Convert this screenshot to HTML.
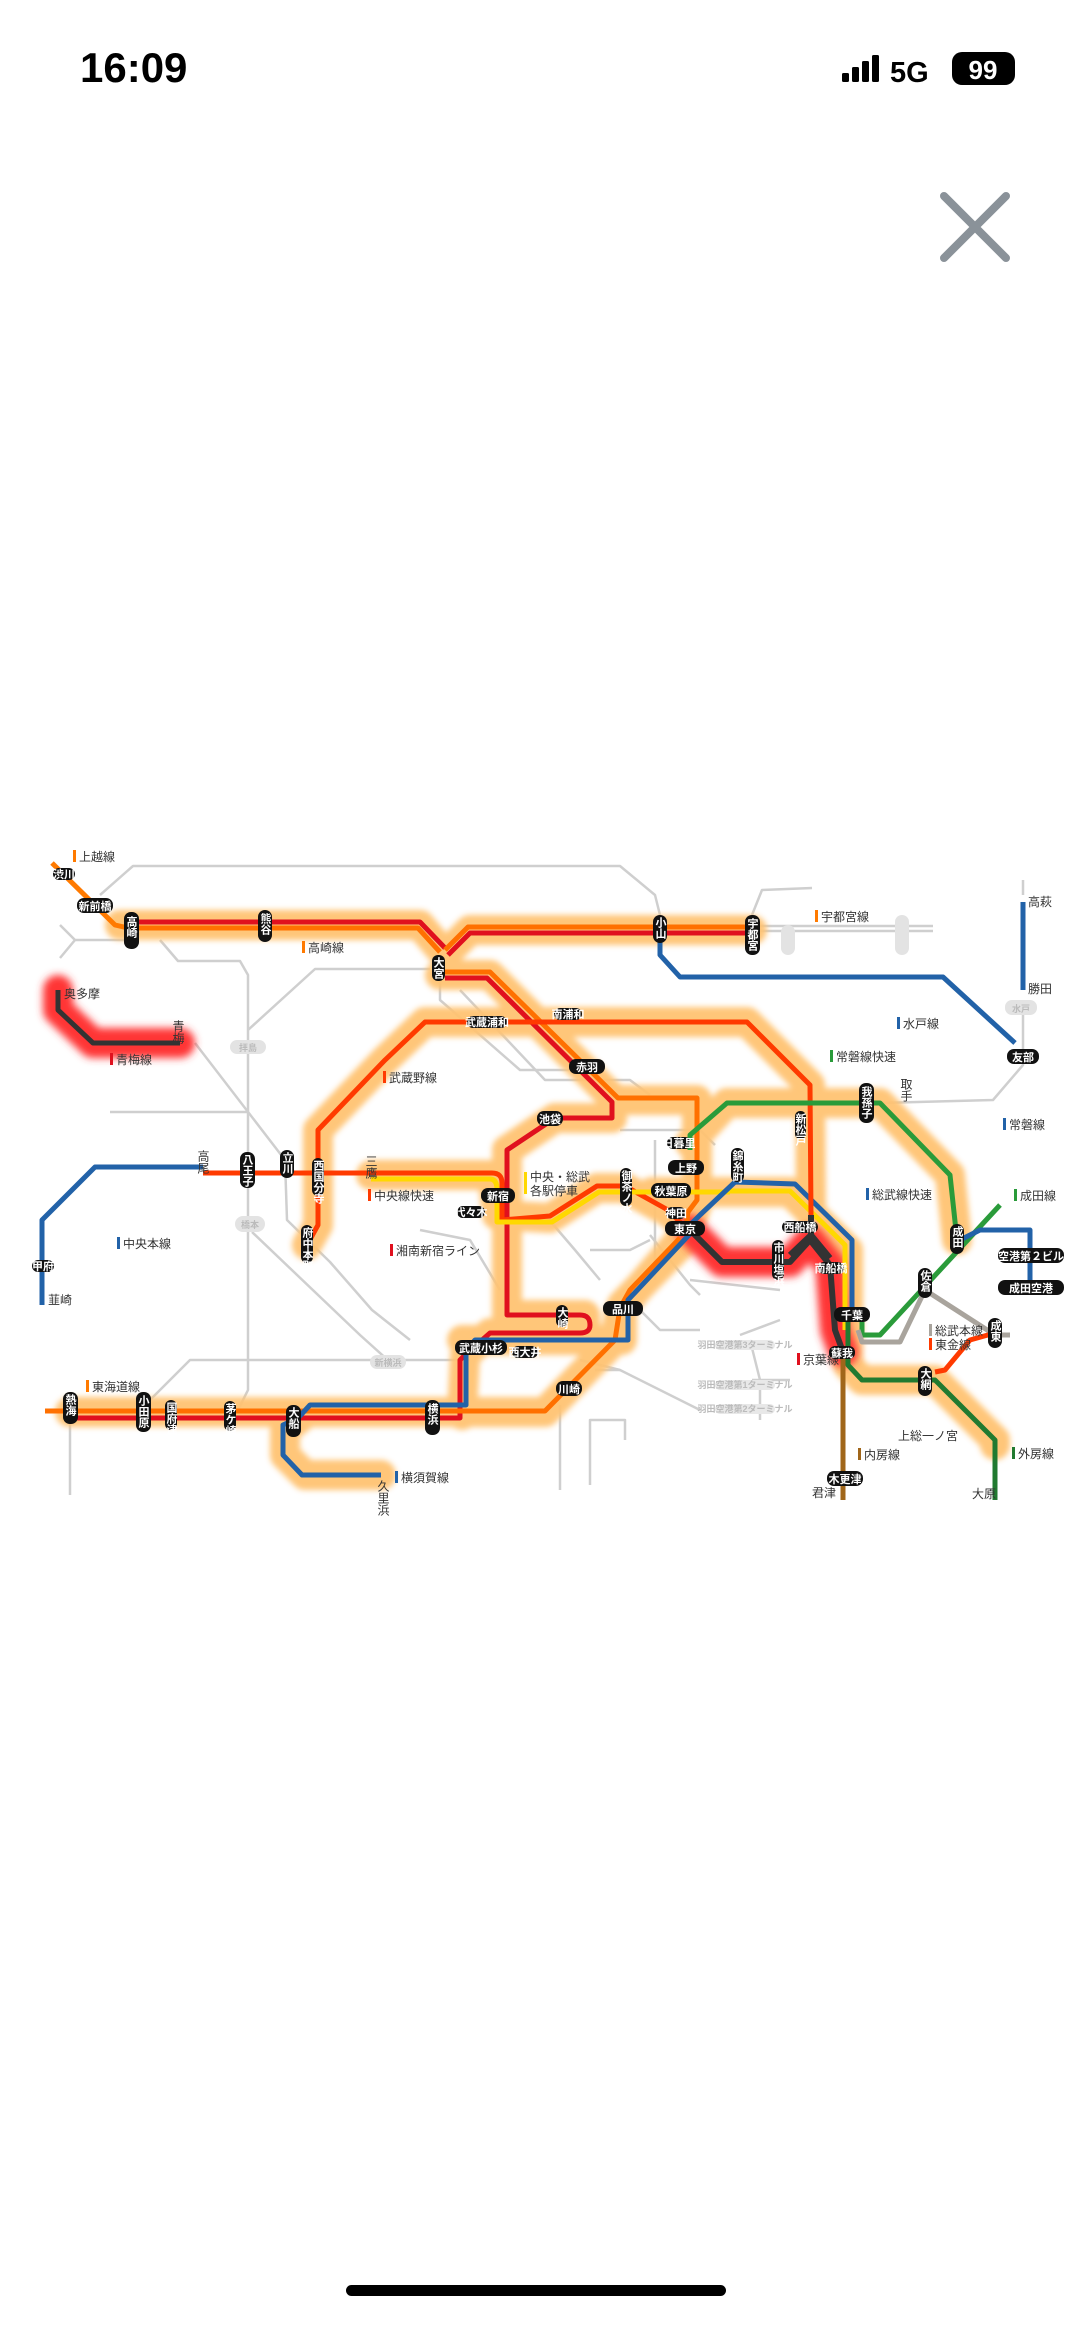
<!DOCTYPE html>
<html><head><meta charset="utf-8">
<style>
html,body{margin:0;padding:0;background:#fff;}
body{width:1080px;height:2338px;position:relative;overflow:hidden;font-family:"Liberation Sans","Noto Sans CJK JP",sans-serif;}
svg{position:absolute;left:0;top:0;}
.pt{fill:#fff;font-weight:bold;font-size:11px;font-family:"Liberation Sans","Noto Sans CJK JP",sans-serif;}
.lg{fill:#333;font-size:12px;font-family:"Liberation Sans","Noto Sans CJK JP",sans-serif;}
.gt{fill:#bbb;font-size:9px;font-weight:bold;font-family:"Liberation Sans","Noto Sans CJK JP",sans-serif;}
.v{writing-mode:vertical-rl;}
</style></head><body>
<svg width="1080" height="2338" viewBox="0 0 1080 2338">
<defs>
<filter id="b" x="-20%" y="-20%" width="140%" height="140%"><feGaussianBlur stdDeviation="3"/></filter>
<filter id="r" x="-20%" y="-20%" width="140%" height="140%"><feGaussianBlur stdDeviation="4"/></filter>
</defs>
<text x="80" y="82" font-size="42" font-weight="bold" fill="#000" font-family="Liberation Sans, sans-serif">16:09</text>
<rect x="842" y="73" width="7" height="9" rx="1.5" fill="#000"/>
<rect x="852" y="67" width="7" height="15" rx="1.5" fill="#000"/>
<rect x="862" y="61" width="7" height="21" rx="1.5" fill="#000"/>
<rect x="872" y="55" width="7" height="27" rx="1.5" fill="#000"/>
<text x="890" y="82" font-size="29" font-weight="bold" fill="#000" font-family="Liberation Sans, sans-serif">5G</text>
<rect x="952" y="52" width="63" height="33" rx="10" fill="#000"/>
<text x="983" y="79" font-size="26" font-weight="bold" fill="#fff" text-anchor="middle" font-family="Liberation Sans, sans-serif">99</text>
<path d="M944,196 L1006,258 M1006,196 L944,258" stroke="#8a9299" stroke-width="8" stroke-linecap="round"/>
<rect x="346" y="2285" width="380" height="11" rx="5.5" fill="#000"/>

<g fill="none" stroke="#cfcfcf" stroke-width="2.5" stroke-linejoin="round">
<path d="M100,895 L133,866 L620,866 L655,895 L660,915"/>
<path d="M60,925 L75,940 L125,940 M60,958 L75,940"/>
<path d="M160,940 L178,961 L240,961 L248,975 L248,1390 L238,1410"/>
<path d="M248,1030 L315,969 L430,969"/>
<path d="M195,1043 L285,1160 L287,1220 L330,1262 L372,1310 L410,1340"/>
<path d="M110,1112 L248,1112"/>
<path d="M252,1232 L360,1335 L390,1362"/>
<path d="M150,1400 L190,1360 L470,1360"/>
<path d="M440,975 L440,1000 L520,1070 L600,1070"/>
<path d="M460,990 L545,1080 L630,1080 L650,1095"/>
<path d="M70,1415 L70,1495"/>
<path d="M752,915 L762,890 L812,888"/>
<path d="M760,926 L933,926 M760,931 L933,931"/>
<path d="M880,1103 L993,1100 L1023,1065 L1023,1000"/>
<path d="M1023,895 L1023,880"/>
<path d="M560,1405 L560,1490 M590,1485 L590,1420 L625,1420 L625,1440"/>
<path d="M595,1370 L620,1370 L700,1410"/>
<path d="M580,1360 L620,1370"/>
<path d="M750,1340 L760,1380 L760,1420"/>
<path d="M650,1235 L690,1285 L700,1295"/>
<path d="M590,1250 L630,1250 L650,1240"/>
<path d="M655,1140 L655,1280 M690,1280 L780,1290"/>
<path d="M620,1130 L700,1130 L715,1145"/>
<path d="M420,1230 L470,1240 L500,1290"/>
<path d="M545,1215 L575,1250 L600,1280"/>
<path d="M630,1300 L660,1330 L700,1330"/>
<path d="M740,1335 L780,1320"/>
<path d="M752,1380 L790,1380"/>
</g>

<g fill="none" stroke="#ffc372" stroke-width="30" stroke-linejoin="round" stroke-linecap="round" filter="url(#b)" opacity="0.95">
<path d="M120,925 L420,925 L445,955 L470,930 L752,930"/>
<path d="M440,975 L490,975 L615,1100 L697,1100 L697,1205 L688,1228"/>
<path d="M612,1100 L612,1118 L555,1118 L507,1150 L507,1315 L585,1315 L585,1333 L490,1333 L465,1355 L462,1415"/>
<path d="M70,1412 L545,1412 L615,1340 L620,1310 L688,1230"/>
<path d="M462,1340 L622,1340 L622,1305 L690,1235"/>
<path d="M300,1418 L285,1430 L285,1455 L305,1475 L381,1475"/>
<path d="M307,1245 L318,1225 L318,1130 L385,1060 L425,1022 L747,1022 L810,1085 L811,1215"/>
<path d="M371,1175 L492,1175 L497,1215 L550,1218 L597,1188 L625,1188 L668,1212 L688,1228"/>
<path d="M652,1192 L790,1192 L848,1250 L848,1315"/>
<path d="M690,1143 L727,1103 L880,1103 L950,1175 L957,1240"/>
<path d="M848,1315 L848,1365 L862,1380 L935,1380 L995,1440 L995,1445"/>
</g>
<g fill="none" stroke="#ff3535" stroke-width="30" stroke-linejoin="round" stroke-linecap="round" filter="url(#r)" opacity="1">
<path d="M58,990 L58,1010 L93,1043 L180,1043"/>
<path d="M690,1230 L722,1262 L790,1262 L810,1240 L830,1265 L835,1330 L843,1352"/>
</g>

<g fill="none" stroke-width="5" stroke-linejoin="round">
<path d="M52,863 L115,925 L128,928" stroke="#ff7a00"/>
<path d="M128,922 L420,922 L445,948" stroke="#e0101e"/>
<path d="M128,928 L418,928 L440,952" stroke="#ff7000"/>
<path d="M445,950 L468,927 L752,927" stroke="#ff7000"/>
<path d="M448,955 L470,933 L752,933" stroke="#e0101e"/>
<path d="M445,972 L490,972 L618,1098 L697,1098 L697,1200 L688,1212 L686,1228" stroke="#ff7000"/>
<path d="M445,978 L487,978 L612,1102 L612,1118 L555,1118 L507,1150 L507,1315 L580,1315 Q590,1315 590,1325 Q590,1333 580,1333 L490,1333 L465,1355 L460,1360 L460,1418 L70,1418" stroke="#e0101e"/>
<path d="M45,1411 L545,1411 L615,1340 L620,1308 L630,1290 L680,1238" stroke="#ff7000"/>
<path d="M695,1230 L688,1236 L628,1300 L628,1340 L475,1340 L466,1350 L466,1405 L310,1405 L298,1418 L283,1425 L283,1455 L302,1475 L381,1475" stroke="#2262a8"/>
<path d="M203,1167 L95,1167 L42,1220 L42,1305" stroke="#2262a8"/>
<path d="M58,990 L58,1010 L93,1043 L180,1043" stroke="#333"/>
<path d="M203,1173 L492,1173 Q502,1173 502,1183 L502,1220 L550,1216 L597,1186 L625,1186 L668,1210 L686,1228" stroke="#ff3a00"/>
<path d="M371,1179 L490,1179 Q497,1179 497,1190 L497,1222 L552,1222 L599,1192 L730,1192" stroke="#ffd800"/>
<path d="M730,1191 L790,1191 L845,1245 L845,1330" stroke="#ffd800"/>
<path d="M690,1225 L700,1215 L735,1182 L795,1184 L852,1240 L852,1315" stroke="#2262a8"/>
<path d="M307,1245 L318,1225 L318,1130 L385,1060 L425,1022 L747,1022 L810,1085 L811,1215" stroke="#ff3a00"/>
<path d="M690,1150 L690,1135 L727,1103 L880,1103 L950,1175 L957,1240" stroke="#2a9b3a"/>
<path d="M690,1230 L722,1262 L790,1262 L810,1240 L830,1265 L835,1330 L843,1352" stroke="#333" stroke-width="6"/>
<path d="M811,1215 L811,1235 L790,1255 M811,1235 L830,1258" stroke="#333" stroke-width="6"/>
<path d="M848,1315 L848,1365 L862,1380 L935,1380 L995,1440 L995,1500" stroke="#217a30"/>
<path d="M843,1355 L843,1500" stroke="#a0661a"/>
<path d="M862,1322 L862,1335 L880,1335 L1000,1205" stroke="#2a9b3a"/>
<path d="M960,1240 L980,1230 L1030,1230 L1030,1290" stroke="#2262a8"/>
<path d="M858,1330 L862,1342 L900,1342 L925,1290 L995,1335 L1010,1335" stroke="#a9a49d"/>
<path d="M935,1372 L945,1370 L970,1340 L995,1333" stroke="#ff3a00"/>
<path d="M660,940 L660,955 L680,977 L943,977 L1015,1043" stroke="#2262a8"/>
<path d="M1023,902 L1023,990" stroke="#2262a8"/>
</g>

<g>
<rect x="73" y="850" width="3" height="12" fill="#ff7a00"/><text class="lg" x="79" y="861">上越線</text>
<rect x="302" y="941" width="3" height="12" fill="#ff7a00"/><text class="lg" x="308" y="952">高崎線</text>
<rect x="815" y="910" width="3" height="12" fill="#ff7a00"/><text class="lg" x="821" y="921">宇都宮線</text>
<rect x="110" y="1053" width="3" height="12" fill="#e0101e"/><text class="lg" x="116" y="1064">青梅線</text>
<rect x="897" y="1017" width="3" height="12" fill="#2262a8"/><text class="lg" x="903" y="1028">水戸線</text>
<rect x="830" y="1050" width="3" height="12" fill="#2a9b3a"/><text class="lg" x="836" y="1061">常磐線快速</text>
<rect x="1003" y="1118" width="3" height="12" fill="#2262a8"/><text class="lg" x="1009" y="1129">常磐線</text>
<rect x="383" y="1071" width="3" height="12" fill="#ff3a00"/><text class="lg" x="389" y="1082">武蔵野線</text>
<rect x="368" y="1189" width="3" height="12" fill="#ff3a00"/><text class="lg" x="374" y="1200">中央線快速</text>
<rect x="524" y="1172" width="3" height="22" fill="#ffd800"/><text class="lg" x="530" y="1181">中央・総武</text><text class="lg" x="530" y="1195">各駅停車</text>
<rect x="390" y="1244" width="3" height="12" fill="#e0101e"/><text class="lg" x="396" y="1255">湘南新宿ライン</text>
<rect x="117" y="1237" width="3" height="12" fill="#2262a8"/><text class="lg" x="123" y="1248">中央本線</text>
<rect x="866" y="1188" width="3" height="12" fill="#2262a8"/><text class="lg" x="872" y="1199">総武線快速</text>
<rect x="1014" y="1189" width="3" height="12" fill="#2a9b3a"/><text class="lg" x="1020" y="1200">成田線</text>
<rect x="929" y="1324" width="3" height="12" fill="#a9a49d"/><text class="lg" x="935" y="1335">総武本線</text>
<rect x="929" y="1338" width="3" height="12" fill="#ff3a00"/><text class="lg" x="935" y="1349">東金線</text>
<rect x="797" y="1353" width="3" height="12" fill="#e0101e"/><text class="lg" x="803" y="1364">京葉線</text>
<rect x="86" y="1380" width="3" height="12" fill="#ff7a00"/><text class="lg" x="92" y="1391">東海道線</text>
<rect x="395" y="1471" width="3" height="12" fill="#2262a8"/><text class="lg" x="401" y="1482">横須賀線</text>
<rect x="858" y="1448" width="3" height="12" fill="#a0661a"/><text class="lg" x="864" y="1459">内房線</text>
<rect x="1012" y="1447" width="3" height="12" fill="#217a30"/><text class="lg" x="1018" y="1458">外房線</text>
<text class="lg" x="64" y="998" font-size="10">奥多摩</text>
<text class="lg" x="1028" y="906" font-size="10">高萩</text>
<text class="lg" x="1028" y="993" font-size="10">勝田</text>
<text class="lg" x="48" y="1304" font-size="10">韮崎</text>
<text class="lg" x="898" y="1440" font-size="10">上総一ノ宮</text>
<text class="lg" x="972" y="1498" font-size="10">大原</text>
<text class="lg" x="812" y="1497" font-size="10">君津</text>
</g>

<g>
<rect x="230" y="1040" width="36" height="14" rx="7" fill="#e3e3e3"/><text class="gt" x="248" y="1051" text-anchor="middle" fill="#fff">拝島</text>
<rect x="235" y="1216" width="30" height="16" rx="8" fill="#e3e3e3"/><text class="gt" x="250" y="1228" text-anchor="middle" fill="#fff">橋本</text>
<rect x="370" y="1355" width="36" height="14" rx="7" fill="#e3e3e3"/><text class="gt" x="388" y="1366" text-anchor="middle" fill="#fff">新横浜</text>
<rect x="1005" y="1000" width="32" height="15" rx="7" fill="#e3e3e3"/><text class="gt" x="1021" y="1012" text-anchor="middle" fill="#fff">水戸</text>
<rect x="895" y="915" width="14" height="40" rx="7" fill="#e3e3e3"/>
<rect x="781" y="925" width="14" height="30" rx="7" fill="#e3e3e3"/>
<rect x="715" y="1340" width="60" height="10" rx="5" fill="#e8e8e8"/><text class="gt" x="745" y="1348" text-anchor="middle" font-size="7" fill="#fff">羽田空港第3ターミナル</text>
<rect x="715" y="1380" width="60" height="10" rx="5" fill="#e8e8e8"/><text class="gt" x="745" y="1388" text-anchor="middle" font-size="7" fill="#fff">羽田空港第1ターミナル</text>
<rect x="715" y="1404" width="60" height="10" rx="5" fill="#e8e8e8"/><text class="gt" x="745" y="1412" text-anchor="middle" font-size="7" fill="#fff">羽田空港第2ターミナル</text>
</g>

<g>
<rect x="53" y="868" width="22" height="12" rx="6" fill="#111"/><text class="pt" font-size="9" x="64" y="878" text-anchor="middle">渋川</text>
<rect x="77" y="898" width="36" height="15" rx="7" fill="#111"/><text class="pt" x="95" y="910" text-anchor="middle">新前橋</text>
<rect x="569" y="1059" width="36" height="15" rx="7" fill="#111"/><text class="pt" x="587" y="1071" text-anchor="middle">赤羽</text>
<rect x="537" y="1111" width="26" height="15" rx="7" fill="#111"/><text class="pt" x="550" y="1123" text-anchor="middle">池袋</text>
<rect x="667" y="1137" width="24" height="12" rx="6" fill="#111"/><text class="pt" font-size="9" x="679" y="1147" text-anchor="middle">日暮里</text>
<rect x="668" y="1160" width="36" height="15" rx="7" fill="#111"/><text class="pt" x="686" y="1172" text-anchor="middle">上野</text>
<rect x="651" y="1183" width="40" height="15" rx="7" fill="#111"/><text class="pt" x="671" y="1195" text-anchor="middle">秋葉原</text>
<rect x="666" y="1207" width="20" height="12" rx="6" fill="#111"/><text class="pt" font-size="9" x="676" y="1217" text-anchor="middle">神田</text>
<rect x="665" y="1221" width="40" height="15" rx="7" fill="#111"/><text class="pt" x="685" y="1233" text-anchor="middle">東京</text>
<rect x="481" y="1188" width="34" height="15" rx="7" fill="#111"/><text class="pt" x="498" y="1200" text-anchor="middle">新宿</text>
<rect x="457" y="1206" width="28" height="12" rx="6" fill="#111"/><text class="pt" font-size="9" x="471" y="1216" text-anchor="middle">代々木</text>
<rect x="603" y="1301" width="40" height="15" rx="7" fill="#111"/><text class="pt" x="623" y="1313" text-anchor="middle">品川</text>
<rect x="455" y="1340" width="52" height="15" rx="7" fill="#111"/><text class="pt" x="481" y="1352" text-anchor="middle">武蔵小杉</text>
<rect x="512" y="1346" width="26" height="12" rx="6" fill="#111"/><text class="pt" font-size="9" x="525" y="1356" text-anchor="middle">西大井</text>
<rect x="556" y="1381" width="26" height="15" rx="7" fill="#111"/><text class="pt" x="569" y="1393" text-anchor="middle">川崎</text>
<rect x="782" y="1221" width="36" height="12" rx="6" fill="#111"/><text class="pt" font-size="9" x="800" y="1231" text-anchor="middle">西船橋</text>
<rect x="818" y="1262" width="26" height="12" rx="6" fill="#111"/><text class="pt" font-size="9" x="831" y="1272" text-anchor="middle">南船橋</text>
<rect x="834" y="1307" width="36" height="15" rx="7" fill="#111"/><text class="pt" x="852" y="1319" text-anchor="middle">千葉</text>
<rect x="829" y="1346" width="26" height="13" rx="6" fill="#111"/><text class="pt" font-size="10" x="842" y="1357" text-anchor="middle">蘇我</text>
<rect x="827" y="1471" width="36" height="15" rx="7" fill="#111"/><text class="pt" x="845" y="1483" text-anchor="middle">木更津</text>
<rect x="1007" y="1049" width="32" height="15" rx="7" fill="#111"/><text class="pt" x="1023" y="1061" text-anchor="middle">友部</text>
<rect x="998" y="1248" width="66" height="15" rx="7" fill="#111"/><text class="pt" x="1031" y="1260" text-anchor="middle">空港第２ビル</text>
<rect x="998" y="1280" width="66" height="15" rx="7" fill="#111"/><text class="pt" x="1031" y="1292" text-anchor="middle">成田空港</text>
<rect x="467" y="1016" width="40" height="12" rx="6" fill="#111"/><text class="pt" font-size="9" x="487" y="1026" text-anchor="middle">武蔵浦和</text>
<rect x="554" y="1008" width="28" height="12" rx="6" fill="#111"/><text class="pt" font-size="9" x="568" y="1018" text-anchor="middle">南浦和</text>
<rect x="32" y="1260" width="22" height="12" rx="6" fill="#111"/><text class="pt" font-size="9" x="43" y="1270" text-anchor="middle">甲府</text>
</g>

<g>
<rect x="124" y="912" width="15" height="37" rx="7" fill="#111"/><text class="pt v" x="131" y="916">高崎</text>
<rect x="258" y="910" width="14" height="32" rx="7" fill="#111"/><text class="pt v" font-size="10" x="265" y="913">熊谷</text>
<rect x="432" y="955" width="13" height="26" rx="6" fill="#111"/><text class="pt v" font-size="10" x="438" y="957">大宮</text>
<rect x="653" y="915" width="14" height="28" rx="7" fill="#111"/><text class="pt v" font-size="10" x="660" y="917">小山</text>
<rect x="745" y="915" width="15" height="40" rx="7" fill="#111"/><text class="pt v" font-size="10" x="752" y="918">宇都宮</text>
<rect x="240" y="1152" width="15" height="36" rx="7" fill="#111"/><text class="pt v" font-size="10" x="247" y="1154">八王子</text>
<rect x="280" y="1150" width="14" height="28" rx="7" fill="#111"/><text class="pt v" font-size="10" x="287" y="1152">立川</text>
<rect x="312" y="1158" width="12" height="38" rx="6" fill="#111"/><text class="pt v" font-size="8" x="318" y="1160">西国分寺</text>
<rect x="301" y="1225" width="12" height="38" rx="6" fill="#111"/><text class="pt v" font-size="8" x="307" y="1227">府中本町</text>
<rect x="620" y="1168" width="12" height="38" rx="6" fill="#111"/><text class="pt v" font-size="8" x="626" y="1170">御茶ノ水</text>
<rect x="731" y="1148" width="13" height="34" rx="6" fill="#111"/><text class="pt v" font-size="9" x="737" y="1150">錦糸町</text>
<rect x="795" y="1111" width="11" height="28" rx="5" fill="#111"/><text class="pt v" font-size="8" x="800" y="1113">新松戸</text>
<rect x="859" y="1083" width="15" height="40" rx="7" fill="#111"/><text class="pt v" font-size="10" x="866" y="1086">我孫子</text>
<rect x="950" y="1224" width="14" height="30" rx="7" fill="#111"/><text class="pt v" font-size="10" x="957" y="1226">成田</text>
<rect x="918" y="1268" width="14" height="30" rx="7" fill="#111"/><text class="pt v" font-size="10" x="925" y="1270">佐倉</text>
<rect x="988" y="1318" width="14" height="30" rx="7" fill="#111"/><text class="pt v" font-size="10" x="995" y="1320">成東</text>
<rect x="918" y="1366" width="14" height="30" rx="7" fill="#111"/><text class="pt v" font-size="10" x="925" y="1368">大網</text>
<rect x="772" y="1240" width="12" height="40" rx="6" fill="#111"/><text class="pt v" font-size="8" x="778" y="1242">市川塩浜</text>
<rect x="63" y="1392" width="15" height="32" rx="7" fill="#111"/><text class="pt v" font-size="10" x="70" y="1394">熱海</text>
<rect x="136" y="1392" width="15" height="40" rx="7" fill="#111"/><text class="pt v" font-size="10" x="143" y="1395">小田原</text>
<rect x="165" y="1400" width="12" height="30" rx="6" fill="#111"/><text class="pt v" font-size="8" x="171" y="1402">国府津</text>
<rect x="224" y="1401" width="12" height="30" rx="6" fill="#111"/><text class="pt v" font-size="8" x="230" y="1403">茅ケ崎</text>
<rect x="286" y="1405" width="15" height="32" rx="7" fill="#111"/><text class="pt v" font-size="10" x="293" y="1407">大船</text>
<rect x="425" y="1400" width="15" height="35" rx="7" fill="#111"/><text class="pt v" font-size="10" x="432" y="1403">横浜</text>
<rect x="556" y="1305" width="12" height="22" rx="6" fill="#111"/><text class="pt v" font-size="8" x="562" y="1307">大崎</text>
</g>
<text class="lg v" x="178" y="1020" font-size="9">青梅</text>
<text class="lg v" x="203" y="1150" font-size="9">高尾</text>
<text class="lg v" x="371" y="1155" font-size="8">三鷹</text>
<text class="lg v" x="906" y="1078" font-size="9">取手</text>
<text class="lg v" x="383" y="1480" font-size="9">久里浜</text>
</svg>
</body></html>
